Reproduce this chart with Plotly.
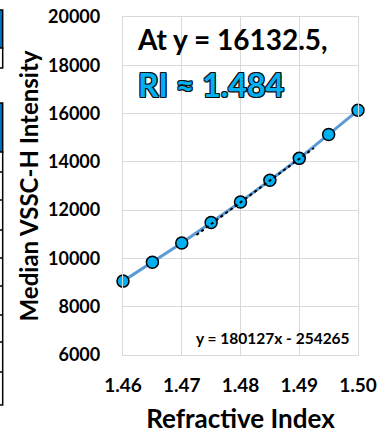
import plotly.graph_objects as go

ri = [1.46, 1.465, 1.47, 1.475, 1.48, 1.485, 1.49, 1.495, 1.50]
intensity = [9060, 9840, 10640, 11490, 12340, 13235, 14145, 15135, 16135]

slope = 180127
intercept = -254265
trend_x = [1.4725, 1.4925]
trend_y = [slope * x + intercept for x in trend_x]

x_ticks = [1.46, 1.47, 1.48, 1.49, 1.50]
x_tick_text = ["1.46", "1.47", "1.48", "1.49", "1.50"]

FONT = "Lato"

fig = go.Figure()
fig.add_trace(go.Scatter(
    x=ri, y=intensity, mode="lines+markers",
    line=dict(color="#5B9BD5", width=3),
    marker=dict(size=12, color="#00B0F0", line=dict(color="#000000", width=1.5)),
    showlegend=False, hoverinfo="skip", cliponaxis=False))
fig.add_trace(go.Scatter(
    x=trend_x, y=trend_y, mode="lines",
    line=dict(color="#000000", width=2, dash="dot"),
    showlegend=False, hoverinfo="skip"))

fig.add_annotation(xref="paper", yref="paper", x=0.05, y=0.935, xanchor="left", yanchor="middle",
                   text="<b>At y = 16132.5,</b>", showarrow=False,
                   font=dict(family=FONT, size=28, color="#000000"))
fig.add_annotation(xref="paper", yref="paper", x=0.055, y=0.80, xanchor="left", yanchor="middle",
                   text="<b>RI ≈ 1.484</b>", showarrow=False,
                   font=dict(family=FONT, size=32, color="#00B0F0",
                             shadow="1px 1px 0 #111, -1px -1px 0 #111, 1px -1px 0 #111, -1px 1px 0 #111, 0 1px 0 #111, 0 -1px 0 #111, 1px 0 0 #111, -1px 0 0 #111"))
fig.add_annotation(xref="paper", yref="paper", x=0.975, y=0.05, xanchor="right", yanchor="middle",
                   text="<b>y = 180127x - 254265</b>", showarrow=False,
                   font=dict(family=FONT, size=15.5, color="#000000"))

# cut-off neighbouring panel at the left edge
def py(p):
    return 1.0 - (p - 17) / 338

x0, x1 = -0.53, -0.512
fig.add_shape(type="rect", xref="paper", yref="paper", x0=x0, x1=x1, y0=py(48), y1=py(10),
              fillcolor="#0070C0", line=dict(color="#000", width=1.5))
fig.add_shape(type="rect", xref="paper", yref="paper", x0=x0, x1=x1, y0=py(68), y1=py(48),
              fillcolor="white", line=dict(color="#000", width=1.5))
fig.add_shape(type="rect", xref="paper", yref="paper", x0=x0, x1=x1, y0=py(152), y1=py(103),
              fillcolor="#0070C0", line=dict(color="#000", width=1.5))
fig.add_shape(type="rect", xref="paper", yref="paper", x0=x0, x1=x1, y0=py(405), y1=py(152),
              fillcolor="white", line=dict(color="#000", width=1.5))
for p in [172, 200, 230, 258, 286, 315, 342, 372]:
    fig.add_shape(type="line", xref="paper", yref="paper", x0=x0, x1=x1, y0=py(p), y1=py(p),
                  line=dict(color="#000", width=1.5))

fig.update_layout(
    width=380, height=434,
    margin=dict(l=123, r=22, t=17, b=79),
    plot_bgcolor="white", paper_bgcolor="white",
    font=dict(family=FONT, color="#000000"),
)
fig.update_xaxes(
    range=[1.46, 1.50], tickvals=x_ticks, ticktext=x_tick_text,
    showgrid=True, gridcolor="#D9D9D9", gridwidth=1.3,
    showline=True, linecolor="#D9D9D9", linewidth=1.3, mirror=True,
    ticks="outside", ticklen=13, tickcolor="rgba(0,0,0,0)",
    tickfont=dict(family=FONT, size=19, color="#000", weight="bold"),
    title=dict(text="<b>Refractive Index</b>", font=dict(family=FONT, size=26), standoff=16),
    zeroline=False, automargin=False,
)
fig.update_yaxes(
    range=[6000, 20000], dtick=2000, tickformat="d",
    showgrid=True, gridcolor="#D9D9D9", gridwidth=1.3,
    showline=True, linecolor="#D9D9D9", linewidth=1.3, mirror=True,
    ticks="outside", ticklen=18, tickcolor="rgba(0,0,0,0)",
    tickfont=dict(family=FONT, size=18, color="#000", weight="bold"),
    title=dict(text="<b>Median VSSC-H Intensity</b>", font=dict(family=FONT, size=24), standoff=2),
    zeroline=False, automargin=False,
)

fig.write_html("out.html")
